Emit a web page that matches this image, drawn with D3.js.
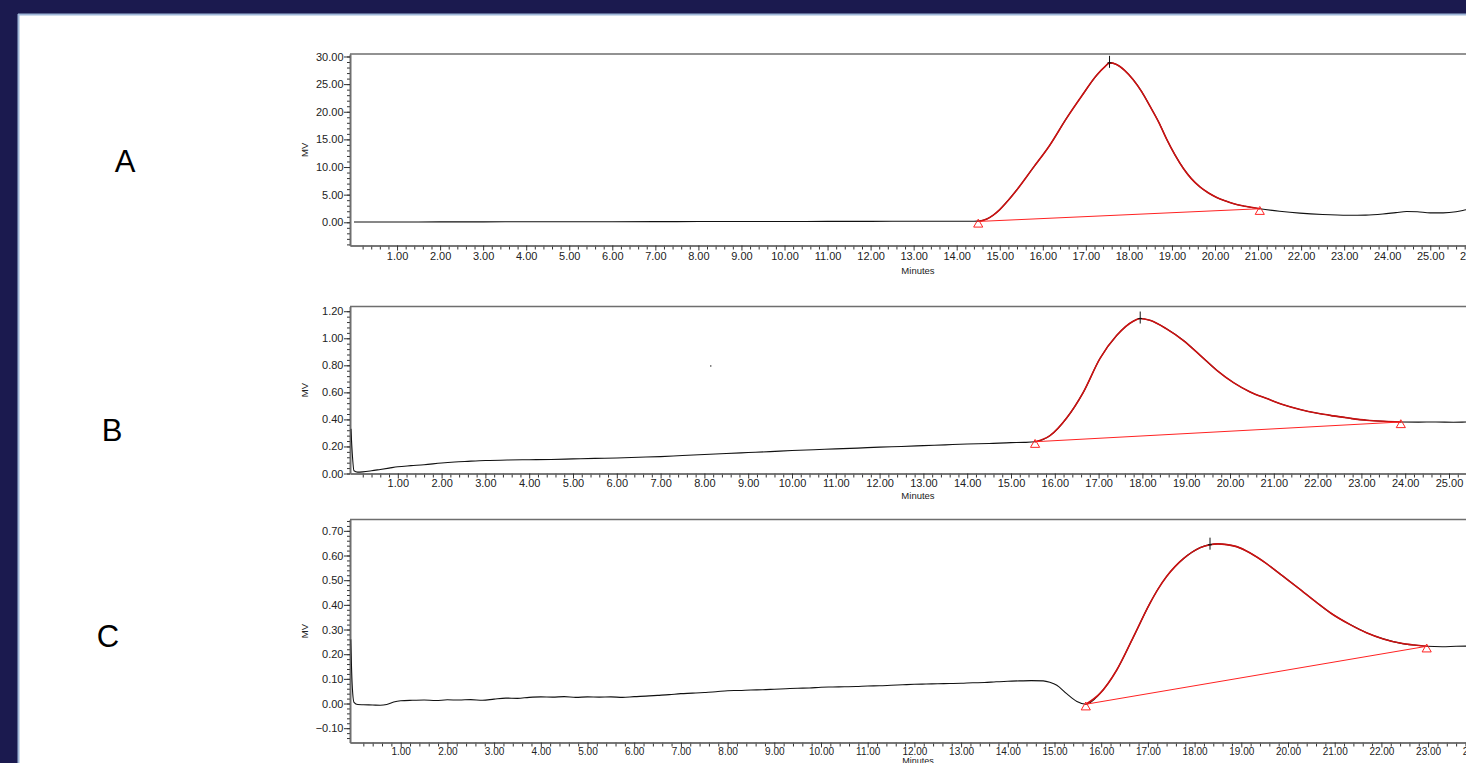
<!DOCTYPE html>
<html>
<head>
<meta charset="utf-8">
<script src="https://cdn.jsdelivr.net/npm/d3@7"></script>
<style>
  html, body { margin: 0; padding: 0; background: #1b1a4f; overflow: hidden; }
  svg { display: block; }
  text { font-family: "Liberation Sans", Arial, sans-serif; }
</style>
</head>
<body>
<svg id="chart" width="1466" height="763"></svg>
<script>
// ---------------- DATA ----------------
const panelLabels = ["A", "B", "C"];
const xTickLabels = ["1.00","2.00","3.00","4.00","5.00","6.00","7.00","8.00","9.00","10.00","11.00","12.00","13.00","14.00","15.00","16.00","17.00","18.00","19.00","20.00","21.00","22.00","23.00","24.00","25.00","26.00","27.00"];
const yTicksA = [0, 5, 10, 15, 20, 25, 30];
const yTicksB = [0, 0.2, 0.4, 0.6, 0.8, 1.0, 1.2];
const yTicksC = [-0.1, 0, 0.1, 0.2, 0.3, 0.4, 0.5, 0.6, 0.7];

// Chromatogram A (minutes, mV)
const tA = [0,1,2,3,4,5,6,7,8,9,10,11,12,13,14,14.4,14.55,14.7,14.85,15.0,15.2,15.4,15.77,16.15,16.55,16.9,17.25,17.45,17.55,17.7,17.9,18.1,18.3,18.49,18.7,18.88,19.07,19.27,19.45,19.65,19.85,20.04,20.25,20.42,20.7,21.04,21.5,21.97,22.5,23.1,23.5,23.9,24.2,24.45,24.7,25.0,25.3,25.6,25.85,26.2];
const vA = [0.05,0.06,0.07,0.08,0.09,0.10,0.11,0.12,0.13,0.14,0.15,0.16,0.17,0.18,0.19,0.20,0.25,0.6,1.3,2.3,4.0,5.9,9.8,13.8,18.8,22.8,26.6,28.2,28.85,28.6,27.5,25.8,23.6,21.0,18.0,15.0,12.2,9.7,7.9,6.4,5.3,4.5,3.85,3.4,2.9,2.45,2.0,1.65,1.4,1.27,1.3,1.5,1.75,1.95,1.9,1.7,1.7,1.9,2.3,2.8];

// Chromatogram B
const tB = [-0.07,-0.04,0.0,0.08,0.2,0.4,0.6,0.8,1.0,1.3,1.6,2.0,2.3,2.6,3.0,3.5,4.0,4.5,5.0,5.5,6,6.5,7,7.5,8,8.5,9,9.5,10,10.5,11,11.5,12,12.5,13,13.5,14,14.5,15,15.3,15.55,15.89,16.27,16.65,17.03,17.41,17.79,17.95,18.17,18.55,18.93,19.32,19.7,20.08,20.46,20.84,21.2,21.6,22.0,22.36,22.75,23.12,23.5,23.9,24.3,24.7,25.1,25.5,26.0];
const vB = [0.33,0.15,0.02,0.01,0.012,0.02,0.03,0.04,0.05,0.058,0.065,0.078,0.085,0.09,0.096,0.1,0.102,0.104,0.108,0.112,0.115,0.12,0.125,0.133,0.14,0.148,0.155,0.162,0.17,0.176,0.182,0.188,0.195,0.2,0.206,0.212,0.218,0.222,0.228,0.23,0.235,0.28,0.41,0.60,0.85,1.02,1.126,1.146,1.133,1.07,0.985,0.874,0.763,0.672,0.603,0.554,0.51,0.473,0.445,0.426,0.408,0.394,0.386,0.381,0.38,0.381,0.379,0.381,0.38];

// Chromatogram C
const tC = [-0.07,-0.04,0.0,0.08,0.2,0.4,0.56,0.7,0.85,
  1.0,1.25,1.5,1.75,2.0,2.25,2.5,2.75,3.0,3.25,3.5,3.75,4.0,4.25,4.5,4.75,5.0,5.25,5.5,5.75,6.0,6.25,6.5,6.75,7.0,7.25,7.5,7.75,8.0,8.25,8.5,8.75,9.0,9.25,9.5,9.75,10.0,10.25,10.5,10.75,11.0,11.25,11.5,11.75,12.0,12.25,12.5,12.75,13.0,13.25,13.5,13.75,14.0,14.25,14.5,
  14.76,14.9,15.05,15.26,15.48,15.67,15.97,16.33,16.69,17.04,17.22,17.4,17.58,17.76,18.12,18.33,18.5,18.69,18.9,19.19,19.54,19.9,20.21,20.61,20.92,21.33,21.68,22.04,22.4,22.7,22.97,23.3,23.6,24.0];
const vC = [0.26,0.08,0.005,-0.004,-0.005,-0.006,-0.007,-0.004,0.006,
  0.011,0.013,0.014,0.012,0.015,0.014,0.016,0.013,0.018,0.022,0.021,0.025,0.027,0.026,0.028,0.025,0.027,0.026,0.027,0.025,0.028,0.030,0.033,0.036,0.040,0.042,0.045,0.048,0.052,0.053,0.055,0.056,0.058,0.060,0.062,0.063,0.066,0.067,0.068,0.069,0.071,0.072,0.074,0.076,0.078,0.079,0.080,0.081,0.082,0.084,0.085,0.088,0.090,0.092,0.093,
  0.092,0.086,0.074,0.04,0.008,-0.003,0.04,0.135,0.27,0.405,0.465,0.515,0.555,0.587,0.632,0.644,0.647,0.644,0.636,0.61,0.567,0.515,0.47,0.41,0.366,0.32,0.287,0.262,0.245,0.237,0.232,0.23,0.232,0.233];

// Peak integration: [start time, start value, apex time, end time, end value]
const peakA = [14.5, 0.15, 17.55, 21.04, 2.45];
const peakB = [15.55, 0.235, 17.95, 23.9, 0.381];
const peakC = [15.67, -0.003, 18.33, 22.97, 0.232];

// stray point in panel B
const strayB = [8.13, 0.80];

// ---------------- LAYOUT ----------------
const svg = d3.select("#chart");
svg.append("rect").attr("x", 19).attr("y", 15).attr("width", 1466).attr("height", 763).attr("fill", "#ffffff");
svg.append("line").attr("x1", 18).attr("x2", 1466).attr("y1", 14.5).attr("y2", 14.5).attr("stroke", "#9fb7d8").attr("stroke-width", 2);
svg.append("line").attr("x1", 18.5).attr("x2", 18.5).attr("y1", 14).attr("y2", 763).attr("stroke", "#9fb7d8").attr("stroke-width", 2);

const panels = [
  { label: panelLabels[0], lx: 125, ly: 172, t: tA, v: vA, peak: peakA, yTicks: yTicksA, yDomain: [-4.2, 30.45], yMinorStep: 1, top: 54, bottom: 245.5, pxPerMin: 43.05, minutesY: 274, labDy: "0.6em", labFs: 11, minFs: 9.5 },
  { label: panelLabels[1], lx: 112, ly: 441, t: tB, v: vB, peak: peakB, yTicks: yTicksB, yDomain: [0, 1.235], yMinorStep: 0.04, top: 306.5, bottom: 473.5, pxPerMin: 43.8, minutesY: 499, labDy: "0.5em", labFs: 11, minFs: 9.5 },
  { label: panelLabels[2], lx: 108, ly: 647, t: tC, v: vC, peak: peakC, yTicks: yTicksC, yDomain: [-0.158, 0.746], yMinorStep: 0.02, top: 519.5, bottom: 742.5, pxPerMin: 46.7, minutesY: 763.5, labDy: "0.42em", labFs: 10, minFs: 9 }
];
const left = 350, zeroX = 354;

panels.forEach((p, pi) => {
  const g = svg.append("g");
  const xMin = -(zeroX - left) / p.pxPerMin;
  const xMax = 30;
  const x = d3.scaleLinear().domain([xMin, xMax]).range([left, left + (xMax - xMin) * p.pxPerMin]);
  const y = d3.scaleLinear().domain(p.yDomain).range([p.bottom, p.top]);

  // panel letter
  g.append("text").attr("x", p.lx).attr("y", p.ly).attr("text-anchor", "middle")
    .attr("font-size", 31).attr("fill", "#000").text(p.label);

  // frame top
  g.append("line").attr("x1", left).attr("x2", 1466).attr("y1", p.top).attr("y2", p.top)
    .attr("stroke", "#6e6e6e").attr("stroke-width", 1.6);

  // x axis
  const majorX = xTickLabels.map(s => +s);
  const minorX = d3.range(1, 150).map(i => +(i * 0.2).toFixed(1)).filter(d => Math.abs(d - Math.round(d)) > 1e-6);
  const xAxisMinor = d3.axisBottom(x).tickValues(minorX).tickSize(4).tickSizeOuter(0).tickFormat("");
  const xAxisMajor = d3.axisBottom(x).tickValues(majorX).tickSize(5).tickSizeOuter(0).tickFormat(d3.format(".2f"));
  const gxm = g.append("g").attr("transform", `translate(0,${p.bottom})`).call(xAxisMinor);
  const gx = g.append("g").attr("transform", `translate(0,${p.bottom})`).call(xAxisMajor);
  [gxm, gx].forEach(a => {
    a.select(".domain").attr("stroke", "#6e6e6e").attr("stroke-width", 1.6);
    a.selectAll(".tick line").attr("stroke", "#333").attr("stroke-width", 1);
  });
  gx.selectAll(".tick text").attr("font-size", p.labFs).attr("fill", "#222").attr("dy", p.labDy)
    .attr("font-family", "'Liberation Sans', Arial, sans-serif");

  g.append("text").attr("x", 918).attr("y", p.minutesY).attr("text-anchor", "middle")
    .attr("font-size", p.minFs).attr("fill", "#222").text("Minutes");

  // y axis
  const yMinor = d3.range(Math.ceil(p.yDomain[0] / p.yMinorStep), Math.floor(p.yDomain[1] / p.yMinorStep) + 1)
    .map(i => +(i * p.yMinorStep).toFixed(4));
  const yAxisMinor = d3.axisLeft(y).tickValues(yMinor).tickSize(3).tickSizeOuter(0).tickFormat("");
  const yAxisMajor = d3.axisLeft(y).tickValues(p.yTicks).tickSize(6).tickSizeOuter(0).tickFormat(d3.format(".2f"));
  const gym = g.append("g").attr("transform", `translate(${left},0)`).call(yAxisMinor);
  const gy = g.append("g").attr("transform", `translate(${left},0)`).call(yAxisMajor);
  [gym, gy].forEach(a => {
    a.select(".domain").attr("stroke", "#6e6e6e").attr("stroke-width", 1.6);
    a.selectAll(".tick line").attr("stroke", "#333").attr("stroke-width", 1);
  });
  gy.selectAll(".tick text").attr("font-size", 11).attr("fill", "#222").attr("x", -6.5)
    .attr("font-family", "'Liberation Sans', Arial, sans-serif");

  g.append("text").attr("transform", `translate(${308},${(p.top + p.bottom) / 2}) rotate(-90)`)
    .attr("text-anchor", "middle").attr("font-size", 9.5).attr("fill", "#222").text("MV");

  // traces
  const pts = p.t.map((t, i) => [t, p.v[i]]);
  const line = d3.line().x(d => x(d[0])).y(d => y(d[1])).curve(d3.curveMonotoneX);
  const clipId = "clip" + pi;
  svg.append("clipPath").attr("id", clipId).append("rect")
    .attr("x", left + 0.5).attr("y", p.top).attr("width", 1466 - left).attr("height", p.bottom - p.top);
  const plot = g.append("g").attr("clip-path", `url(#${clipId})`);
  plot.append("path").datum(pts).attr("d", line).attr("fill", "none").attr("stroke", "#111").attr("stroke-width", 1.1);

  const [ps, pv0, pa, pe, pv1] = p.peak;
  const peakPts = pts.filter(d => d[0] >= ps - 1e-9 && d[0] <= pe + 1e-9);
  plot.append("path").datum(peakPts).attr("d", line).attr("fill", "none").attr("stroke", "#cc1111").attr("stroke-width", 1.6);

  // integration baseline
  plot.append("line").attr("x1", x(ps)).attr("y1", y(pv0)).attr("x2", x(pe)).attr("y2", y(pv1))
    .attr("stroke", "#ff2222").attr("stroke-width", 1);

  // triangles
  const tri = d3.symbol().type(d3.symbolTriangle).size(36);
  [[ps, pv0], [pe, pv1]].forEach(d => {
    g.append("path").attr("d", tri).attr("transform", `translate(${x(d[0])},${y(d[1]) + 3})`)
      .attr("fill", "none").attr("stroke", "#ff2222").attr("stroke-width", 1);
  });

  // apex marker
  const apexIdx = p.t.indexOf(pa);
  const ay = y(p.v[apexIdx]);
  g.append("line").attr("x1", x(pa)).attr("x2", x(pa)).attr("y1", ay - 7).attr("y2", ay + 5)
    .attr("stroke", "#111").attr("stroke-width", 1);
  g.append("line").attr("x1", x(pa) - 2).attr("x2", x(pa) + 2).attr("y1", ay).attr("y2", ay)
    .attr("stroke", "#111").attr("stroke-width", 1);

  if (pi === 1) {
    g.append("rect").attr("x", x(strayB[0])).attr("y", y(strayB[1])).attr("width", 1.3).attr("height", 1.3).attr("fill", "#333");
  }
});
</script>
</body>
</html>
